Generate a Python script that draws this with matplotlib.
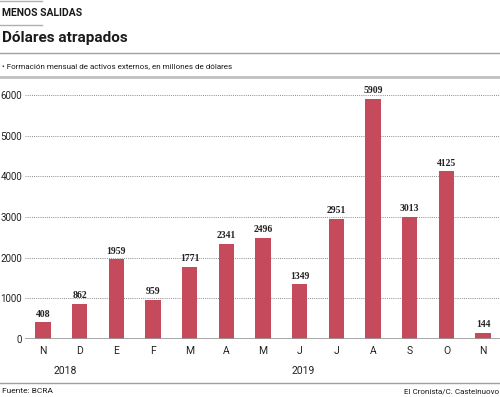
import matplotlib
matplotlib.use("Agg")
import matplotlib.pyplot as plt
from matplotlib.lines import Line2D

plt.rcParams["font.family"] = ["Roboto", "DejaVu Sans"]

months = ["N", "D", "E", "F", "M", "A", "M", "J", "J", "A", "S", "O", "N"]
values = [408, 862, 1959, 959, 1771, 2341, 2496, 1349, 2951, 5909, 3013, 4125, 144]
yticks = [0, 1000, 2000, 3000, 4000, 5000, 6000]
years = ["2018", "2019"]
year_pos = [0.6, 7.1]

W, H = 500, 397
BAR = "#c44a5c"
GRAY = "#9a9a9a"

fig = plt.figure(figsize=(W / 100, H / 100), dpi=100)

def fx(x):
    return x / W

def fy(y):  # pixel coords from top
    return 1 - y / H

# axes: left edge 25px, right 500px, zero at 339px, ylim top at ~85px
ax = fig.add_axes([fx(25), fy(339), fx(475), (339 - 85) / H])
x = list(range(len(months)))
ax.bar(x, values, width=0.42, color=BAR, zorder=3)
ax.set_xlim(-0.49, 12.46)
ax.set_ylim(0, 6250)
for v in yticks[1:]:
    ax.axhline(v, color="#8c8c8c", lw=0.7, ls=(0, (1, 1.2)), zorder=1)
ax.axhline(0, color=GRAY, lw=1.2, zorder=4)
for s in ax.spines.values():
    s.set_visible(False)
ax.set_yticks(yticks)
ax.set_yticklabels([str(v) for v in yticks], fontsize=7, color="#222222")
ax.tick_params(axis="y", length=0, pad=2)
ax.set_xticks(x)
ax.set_xticklabels(months, fontsize=7.5, color="#222222")
ax.tick_params(axis="x", length=0, pad=5)
for xi, v in zip(x, values):
    ax.text(xi, v + 90, str(v), ha="center", va="bottom", fontsize=7,
            fontweight="bold", family="Liberation Serif", color="#222222")
for yr, p in zip(years, year_pos):
    ax.text(p, -0.105, yr, transform=ax.get_xaxis_transform(), ha="center",
            va="top", fontsize=7.5, color="#222222")

def hline(y, x0, x1, color=GRAY, lw=1.0):
    fig.add_artist(Line2D([fx(x0), fx(x1)], [fy(y), fy(y)], color=color, lw=lw))

def txt(x, y, s, size, weight="normal", ha="left", color="#1a1a1a"):
    fig.text(fx(x), fy(y), s, fontsize=size, fontweight=weight, ha=ha,
             va="center", color=color)

# header
hline(0.5, 0, 42, color="#b0b0b0", lw=1.0)
txt(2, 13, "MENOS SALIDAS", 7.5, "bold")
hline(25, 0, 42, color="#b0b0b0", lw=1.0)
txt(2, 38, "Dólares atrapados", 11, "bold")
hline(53, 0, 500, color="#a0a0a0", lw=1.0)
txt(2, 66, "• Formación mensual de activos externos, en millones de dólares", 5.8)
hline(77, 0, 500, color="#c0c0c0", lw=2.0)

# footer
hline(383, 0, 500, color="#a0a0a0", lw=1.0)
txt(2, 391, "Fuente: BCRA", 6)
txt(499, 391, "El Cronista/C. Castelnuovo", 5.8, ha="right")

fig.savefig("out.png", dpi=100, facecolor="white")
